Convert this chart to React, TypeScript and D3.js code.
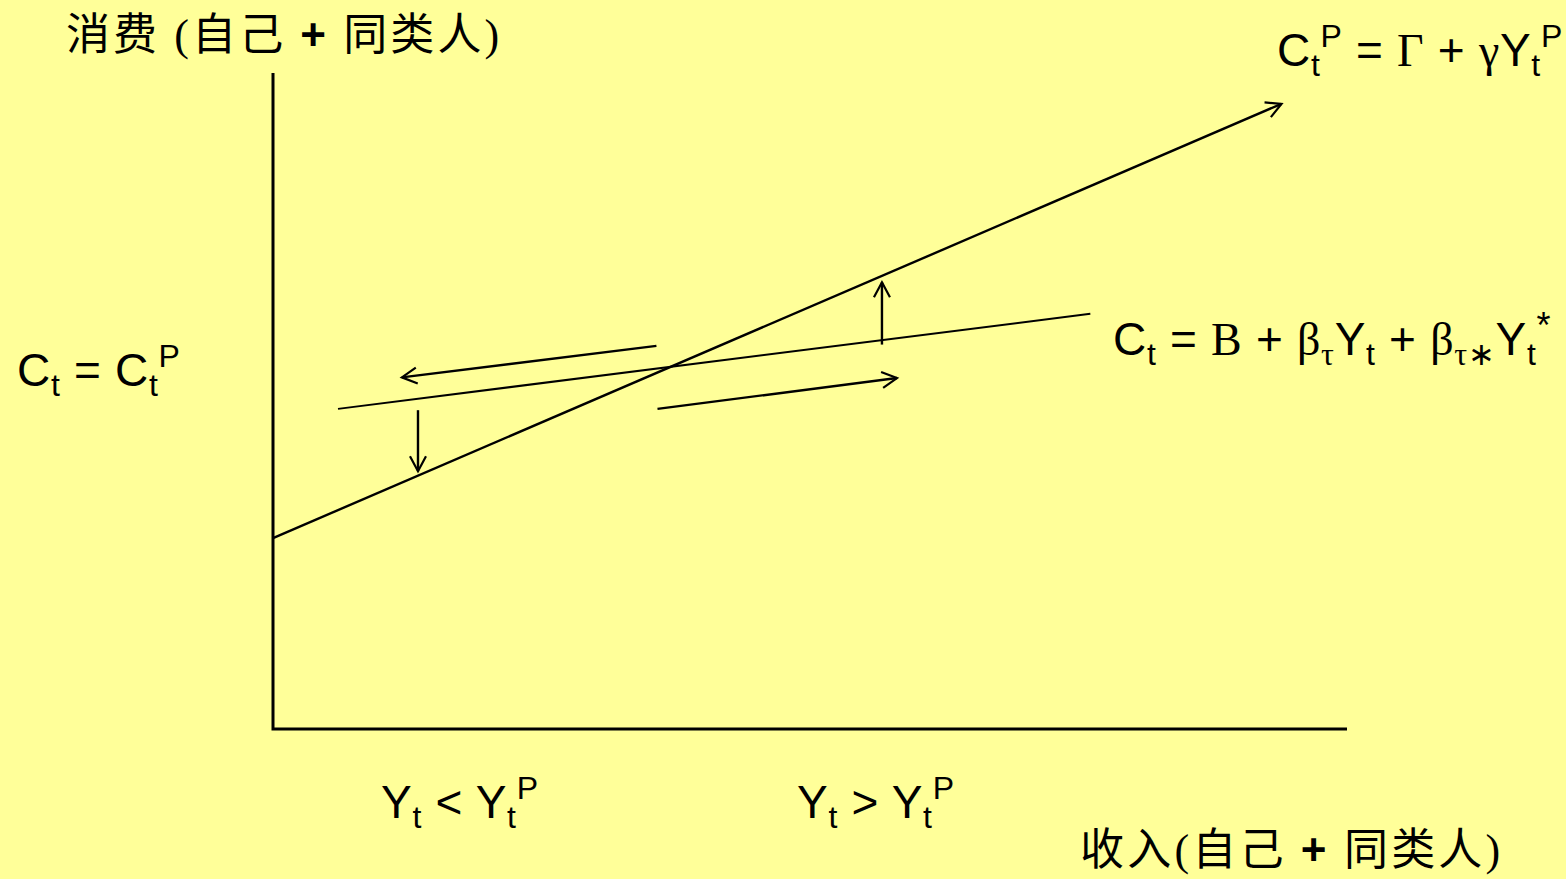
import React from "react";
import * as d3 from "d3";

const W = 1566;
const H = 879;

// Conceptual axes (0..100 on both)
const xDomain = [0, 100];
const yDomain = [0, 100];

// Permanent-income consumption line C^P = Γ + γY^P
const permLine: [number, number][] = [
  [0, 29.1],
  [93.9, 95.3],
];
// Short-run consumption line C = B + βY + β*Y*
const shortLine: [number, number][] = [
  [6.05, 48.8],
  [76.1, 63.3],
];
// Movement arrows: [x1, y1, x2, y2]
const moveArrows: [number, number, number, number][] = [
  [35.7, 58.4, 12.0, 53.6],
  [35.8, 48.8, 58.1, 53.5],
  [13.5, 48.6, 13.5, 39.3],
  [56.7, 58.6, 56.7, 68.1],
];

const SANS = "'Liberation Sans', Arial, sans-serif";
const SERIF = "'Liberation Serif', 'Times New Roman', serif";
const CJK = "'Liberation Serif', 'Noto Sans CJK SC', serif";

export default function App() {
  const x = d3.scaleLinear().domain(xDomain).range([273, 1347]);
  const y = d3.scaleLinear().domain(yDomain).range([729, 73]);
  const line = d3
    .line<[number, number]>()
    .x((d) => x(d[0]))
    .y((d) => y(d[1]));

  const FS = 46;
  const LS = 0.7;
  const sub = { fontSize: 32, dy: 10 };
  const supDy = -29;

  return (
    <svg
      width={W}
      height={H}
      style={{ position: "absolute", left: 0, top: 0, background: "#FFFF99" }}
    >
      <defs>
        <marker
          id="ah"
          markerUnits="userSpaceOnUse"
          markerWidth={40}
          markerHeight={40}
          refX={0}
          refY={0}
          viewBox="-20 -20 40 40"
          orient="auto"
        >
          <path d="M-15,-8 L0,0 L-15,8" fill="none" stroke="#000" strokeWidth={2.2} />
        </marker>
      </defs>
      <rect x={0} y={0} width={W} height={H} fill="#FFFF99" />

      {/* axes */}
      <path
        d={`M${x(xDomain[0])},${y(yDomain[1])} L${x(xDomain[0])},${y(yDomain[0])} L${x(xDomain[1])},${y(yDomain[0])}`}
        fill="none"
        stroke="#000"
        strokeWidth={3}
      />

      <path d={line(permLine) || ""} fill="none" stroke="#000" strokeWidth={2.4} markerEnd="url(#ah)" />
      <path d={line(shortLine) || ""} fill="none" stroke="#000" strokeWidth={2} />

      {moveArrows.map((a, i) => (
        <line
          key={i}
          x1={x(a[0])}
          y1={y(a[1])}
          x2={x(a[2])}
          y2={y(a[3])}
          stroke="#000"
          strokeWidth={2.4}
          markerEnd="url(#ah)"
        />
      ))}

      {/* y axis title */}
      <text x={66} y={50} fontFamily={CJK} fontSize={44} letterSpacing={3.1} fill="#000">
        消费 (自己 <tspan fontFamily={SANS} fontWeight="bold">+</tspan> 同类人)
      </text>

      {/* x axis title */}
      <text x={1080} y={865} fontFamily={CJK} fontSize={44} letterSpacing={3.2} fill="#000">
        收入(自己 <tspan fontFamily={SANS} fontWeight="bold">+</tspan> 同类人)
      </text>

      {/* C^P equation */}
      <text x={1277} y={66} fontFamily={SANS} fontSize={FS} letterSpacing={LS} fill="#000">
        C<tspan fontSize={sub.fontSize} dy={sub.dy}>t</tspan>
        <tspan fontSize={sub.fontSize} dy={supDy}>P</tspan>
        <tspan dy={-sub.dy - supDy}> = </tspan>
        <tspan fontFamily={SERIF}>Γ</tspan>
        <tspan> + </tspan>
        <tspan fontFamily={SERIF}>γ</tspan>Y
        <tspan fontSize={sub.fontSize} dy={sub.dy}>t</tspan>
        <tspan fontSize={sub.fontSize} dy={supDy}>P</tspan>
      </text>

      {/* short-run equation */}
      <text x={1113} y={355} fontFamily={SANS} fontSize={FS} letterSpacing={LS} fill="#000">
        C<tspan fontSize={sub.fontSize} dy={sub.dy}>t</tspan>
        <tspan dy={-sub.dy}> = </tspan>
        <tspan fontFamily={SERIF}>B</tspan>
        <tspan> + </tspan>
        <tspan fontFamily={SERIF}>β</tspan>
        <tspan fontFamily={SERIF} fontSize={32} dy={sub.dy}>τ</tspan>
        <tspan dy={-sub.dy}>Y</tspan>
        <tspan fontSize={sub.fontSize} dy={sub.dy}>t</tspan>
        <tspan dy={-sub.dy}> + </tspan>
        <tspan fontFamily={SERIF}>β</tspan>
        <tspan fontFamily={SERIF} fontSize={32} dy={sub.dy}>τ∗</tspan>
        <tspan dy={-sub.dy}>Y</tspan>
        <tspan fontSize={sub.fontSize} dy={sub.dy}>t</tspan>
        <tspan fontSize={36} dy={-27}>*</tspan>
      </text>

      {/* C = C^P */}
      <text x={17} y={386} fontFamily={SANS} fontSize={FS} letterSpacing={LS} fill="#000">
        C<tspan fontSize={sub.fontSize} dy={sub.dy}>t</tspan>
        <tspan dy={-sub.dy}> = C</tspan>
        <tspan fontSize={sub.fontSize} dy={sub.dy}>t</tspan>
        <tspan fontSize={sub.fontSize} dy={supDy}>P</tspan>
      </text>

      {/* income regimes */}
      <text x={381} y={818} fontFamily={SANS} fontSize={FS} letterSpacing={LS} fill="#000">
        Y<tspan fontSize={sub.fontSize} dy={sub.dy}>t</tspan>
        <tspan dy={-sub.dy}> &lt; Y</tspan>
        <tspan fontSize={sub.fontSize} dy={sub.dy}>t</tspan>
        <tspan fontSize={sub.fontSize} dy={supDy}>P</tspan>
      </text>
      <text x={797} y={818} fontFamily={SANS} fontSize={FS} letterSpacing={LS} fill="#000">
        Y<tspan fontSize={sub.fontSize} dy={sub.dy}>t</tspan>
        <tspan dy={-sub.dy}> &gt; Y</tspan>
        <tspan fontSize={sub.fontSize} dy={sub.dy}>t</tspan>
        <tspan fontSize={sub.fontSize} dy={supDy}>P</tspan>
      </text>
    </svg>
  );
}
